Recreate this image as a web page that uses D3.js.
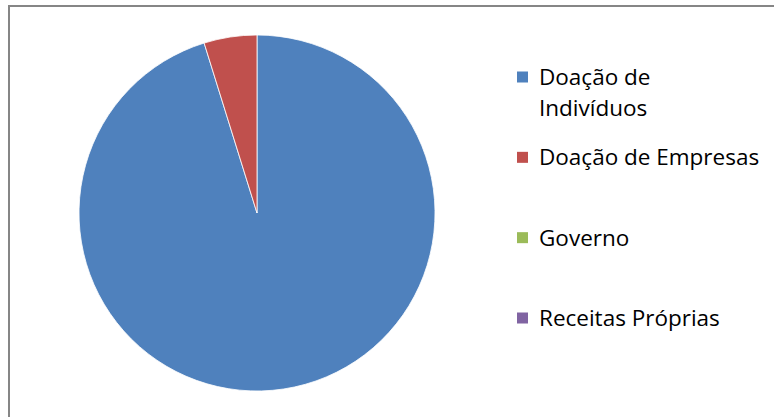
<!DOCTYPE html>
<html>
<head>
<meta charset="utf-8">
<script src="https://cdn.jsdelivr.net/npm/d3@7"></script>
<style>
  body { margin: 0; background: #fff; }
  svg { display: block; }
</style>
</head>
<body>
<svg id="chart" width="774" height="417"></svg>
<script>
// data
var categories = ["Doação de Indivíduos", "Doação de Empresas", "Governo", "Receitas Próprias"];
var values = [95.2, 4.8, 0, 0];
var colours = ["#4F81BD", "#C0504D", "#9BBB59", "#8064A2"];
var legendLines = [["Doação de", "Indivíduos"], ["Doação de Empresas"], ["Governo"], ["Receitas Próprias"]];

var svg = d3.select("#chart");

// chart frame, runs off the right and bottom
svg.append("rect")
    .attr("x", 9).attr("y", 6)
    .attr("width", 800).attr("height", 450)
    .attr("fill", "#fff")
    .attr("stroke", "#868686")
    .attr("stroke-width", 2);

var cx = 257, cy = 213, r = 178;

var pie = d3.pie().sort(null).value(function (d) { return d; });
var arc = d3.arc().innerRadius(0).outerRadius(r);

var colour = d3.scaleOrdinal().domain(categories).range(colours);

svg.append("g")
    .attr("transform", "translate(" + cx + "," + cy + ")")
    .selectAll("path")
    .data(pie(values))
    .enter()
    .append("path")
    .attr("d", arc)
    .attr("fill", function (d, i) { return colour(categories[i]); })
    .attr("stroke", "#fff")
    .attr("stroke-width", function (d) { return d.value > 0 ? 0.8 : 0; });

// legend
var legendY = d3.scalePoint().domain(categories).range([77, 318]);

var item = svg.append("g")
    .selectAll("g")
    .data(categories)
    .enter()
    .append("g")
    .attr("transform", function (d) { return "translate(517," + legendY(d) + ")"; });

item.append("rect")
    .attr("x", 0).attr("y", -5.5)
    .attr("width", 11).attr("height", 11)
    .attr("fill", function (d) { return colour(d); });

item.append("text")
    .attr("x", 22)
    .attr("y", 8)
    .attr("font-family", "Open Sans, sans-serif")
    .attr("font-size", 22.5)
    .attr("fill", "#000")
    .selectAll("tspan")
    .data(function (d, i) { return legendLines[i]; })
    .enter()
    .append("tspan")
    .attr("x", 22)
    .attr("dy", function (d, j) { return j === 0 ? 0 : 31; })
    .text(function (d) { return d; });
</script>
</body>
</html>
